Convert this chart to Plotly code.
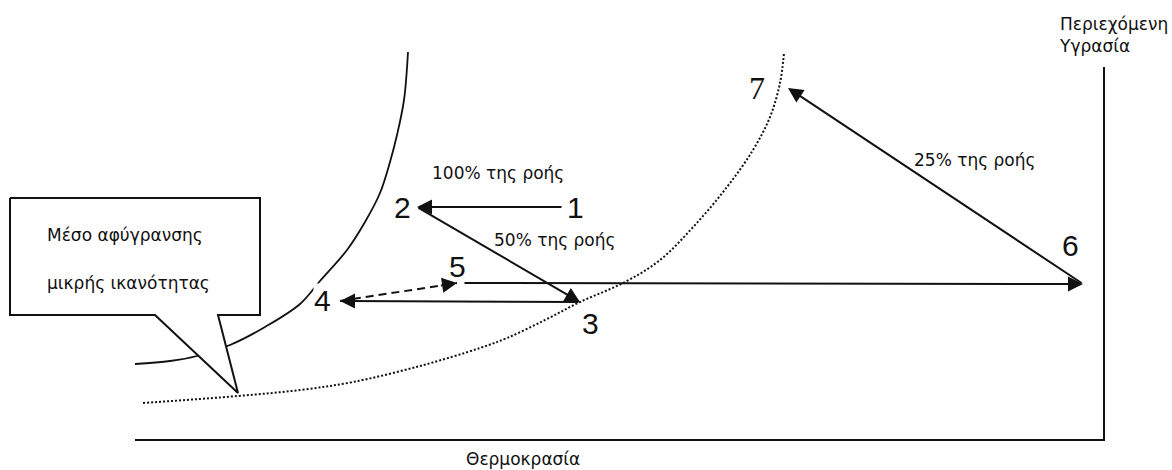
import plotly.graph_objects as go

# ---- Data (diagram units: x = temperature, y = moisture content) ----
# Saturation curve of the small-capacity desiccant (solid)
sat_solid_t = [135, 170, 197, 230, 265, 300, 320, 347, 365, 380, 390, 397, 404, 408]
sat_solid_w = [106, 109, 114, 125, 143, 166, 189, 220, 248, 277, 308, 335, 370, 418]

# Saturation curve (dotted)
sat_dot_t = [143, 238, 300, 353, 420, 480, 507, 545, 580, 625, 660, 695, 727, 753, 770, 780, 784]
sat_dot_w = [67, 74, 80, 88, 104, 122, 132, 150, 168, 188, 210, 245, 283, 320, 353, 387, 417]

# State points 1..7
state_labels = ["1", "2", "3", "4", "5", "6", "7"]
state_t = [563, 417, 580, 340, 457, 1083, 788]
state_w = [263, 263, 168, 169, 187, 186, 382]

# Processes (from -> to), solid arrows
processes = [(1, 2), (2, 3), (3, 4), (5, 6), (6, 7)]
# Dashed process
dashed_process = (4, 5)

# Flow labels
flow_texts = ["100% της ροής", "50% της ροής", "25% της ροής"]
flow_t = [498, 555, 975]
flow_w = [297, 230, 310]

# Axes frame
axis_t = [135, 1104, 1104]
axis_w = [30, 30, 403]

# Callout
callout_t = [10, 260, 260, 218, 238, 155, 10, 10]
callout_w = [272, 272, 155, 155, 77, 155, 155, 272]
callout_lines = ["Μέσο αφύγρανσης", "μικρής ικανότητας"]
callout_text_t = [45, 45]
callout_text_w = [235, 187]

# ---- Styling / layout offsets (pixels) ----
label_dx = [12, -15, 10, -18, 0, -13, -31]
label_dy = [0, 0, -21, 1, 17, 39, 0]
label_font = ["Liberation Sans"] * 6 + ["Liberation Serif"]
label_size = [30, 30, 30, 30, 30, 30, 32]
INK = "#111111"
TXT_FONT = "DejaVu Sans"

fig = go.Figure()

# Axes
fig.add_trace(go.Scatter(x=axis_t, y=axis_w, mode="lines",
                         line=dict(color=INK, width=2), hoverinfo="skip"))
# Curves
fig.add_trace(go.Scatter(x=sat_dot_t, y=sat_dot_w, mode="lines",
                         line=dict(color=INK, width=2, dash="2px,2px", shape="spline"),
                         hoverinfo="skip"))
fig.add_trace(go.Scatter(x=sat_solid_t, y=sat_solid_w, mode="lines",
                         line=dict(color=INK, width=1.8, shape="spline"),
                         hoverinfo="skip"))
# Callout bubble
fig.add_trace(go.Scatter(x=callout_t, y=callout_w, mode="lines", fill="toself",
                         fillcolor="white", line=dict(color=INK, width=2),
                         hoverinfo="skip"))

# Dashed process line 4 -> 5
a, b = dashed_process
fig.add_trace(go.Scatter(x=[state_t[a - 1], state_t[b - 1]],
                         y=[state_w[a - 1], state_w[b - 1]], mode="lines",
                         line=dict(color=INK, width=2, dash="8px,5px"),
                         hoverinfo="skip"))

annotations = []
for (a, b) in processes:
    annotations.append(dict(
        x=state_t[b - 1], y=state_w[b - 1], ax=state_t[a - 1], ay=state_w[a - 1],
        xref="x", yref="y", axref="x", ayref="y", text="", showarrow=True,
        arrowhead=2, arrowsize=1.5, arrowwidth=2, arrowcolor=INK,
        startstandoff=6 if a == 5 else 0))
# arrow head for the dashed process
a, b = dashed_process
ht = state_t[b - 1] - 0.15 * (state_t[b - 1] - state_t[a - 1])
hw = state_w[b - 1] - 0.15 * (state_w[b - 1] - state_w[a - 1])
annotations.append(dict(
    x=state_t[b - 1], y=state_w[b - 1], ax=ht, ay=hw,
    xref="x", yref="y", axref="x", ayref="y", text="", showarrow=True,
    arrowhead=2, arrowsize=1.5, arrowwidth=2, arrowcolor=INK))

# State labels
for i, lab in enumerate(state_labels):
    annotations.append(dict(
        x=state_t[i], y=state_w[i], xref="x", yref="y", text=lab, showarrow=False,
        xshift=label_dx[i], yshift=label_dy[i],
        font=dict(family=label_font[i], size=label_size[i], color=INK),
        bgcolor="white" if lab == "4" else "rgba(0,0,0,0)", borderpad=0))

# Flow labels
for txt, t, w in zip(flow_texts, flow_t, flow_w):
    annotations.append(dict(x=t, y=w, xref="x", yref="y", text=txt, showarrow=False,
                            font=dict(family=TXT_FONT, size=17, color=INK)))

# Callout text
for txt, t, w in zip(callout_lines, callout_text_t, callout_text_w):
    annotations.append(dict(x=t, y=w, xref="x", yref="y", text=txt, showarrow=False,
                            xanchor="left",
                            font=dict(family=TXT_FONT, size=17, color=INK)))

# Axis titles
annotations.append(dict(x=523, y=11, xref="x", yref="y", text="Θερμοκρασία",
                        showarrow=False, font=dict(family=TXT_FONT, size=17, color=INK)))
annotations.append(dict(x=1057, y=435, xref="x", yref="y",
                        text="Περιεχόμενη<br>Υγρασία", showarrow=False,
                        xanchor="left", align="left",
                        font=dict(family=TXT_FONT, size=17, color=INK)))

fig.update_layout(
    width=1172, height=470, margin=dict(l=0, r=0, t=0, b=0),
    paper_bgcolor="white", plot_bgcolor="white", showlegend=False,
    xaxis=dict(range=[0, 1172], visible=False, fixedrange=True),
    yaxis=dict(range=[0, 470], visible=False, fixedrange=True),
    annotations=annotations,
)

fig.write_html("out.html", config={"displayModeBar": False},
               post_script="document.body.style.margin='0px';document.body.style.overflow='hidden';")
